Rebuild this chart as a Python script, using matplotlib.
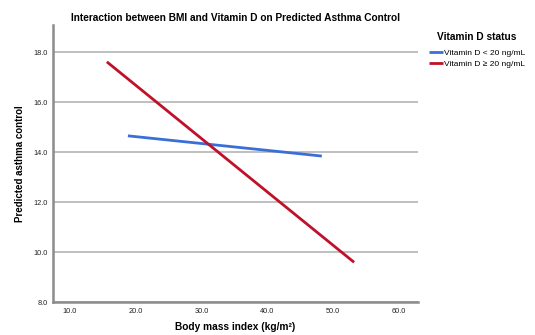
import matplotlib.pyplot as plt

plt.rcParams["font.family"] = ["Liberation Sans", "DejaVu Sans"]

# 예측값 (선의 양 끝점)
bmi_low = [18.8, 48.3]
asthma_low = [14.65, 13.84]
bmi_high = [15.6, 53.2]
asthma_high = [17.61, 9.59]

x_ticks = [10, 20, 30, 40, 50, 60]
y_ticks = [8, 10, 12, 14, 16, 18]

fig = plt.figure(figsize=(5.35, 3.35), dpi=100)
ax = fig.add_axes([0.099, 0.0985, 0.682, 0.8265])

ax.plot(bmi_low, asthma_low, color="#3a6fd8", linewidth=2,
        label="Vitamin D < 20 ng/mL", solid_capstyle="butt")
ax.plot(bmi_high, asthma_high, color="#c0102a", linewidth=2,
        label="Vitamin D \u2265 20 ng/mL", solid_capstyle="butt")

ax.set_xlim(7.4, 62.9)
ax.set_ylim(8, 19.08)
ax.set_xticks(x_ticks)
ax.set_xticklabels([f"{v:.1f}" for v in x_ticks])
ax.set_yticks(y_ticks)
ax.set_yticklabels([f"{v:.1f}" for v in y_ticks])
ax.tick_params(length=0, labelsize=5.3, colors="#222222", pad=4)

ax.yaxis.grid(True, color="#b4b4b4", linewidth=1.2)
ax.set_axisbelow(True)
for side in ["top", "right"]:
    ax.spines[side].set_visible(False)
for side in ["left", "bottom"]:
    ax.spines[side].set_color("#8c8c8c")
    ax.spines[side].set_linewidth(1.8)

ax.set_title("Interaction between BMI and Vitamin D on Predicted Asthma Control",
             fontsize=7.3, fontweight="bold", pad=3)
ax.set_xlabel("Body mass index (kg/m\u00b2)", fontsize=7.3, fontweight="bold", labelpad=5)
ax.set_ylabel("Predicted asthma control", fontsize=7, fontweight="bold", labelpad=6)

leg = ax.legend(title="Vitamin D status", loc="upper left",
                bbox_to_anchor=(1.03, 0.975), frameon=False, fontsize=6.0,
                handlelength=1.7, handletextpad=0.15, labelspacing=0.35,
                borderaxespad=0, borderpad=0)
leg.get_title().set_fontweight("bold")
leg.get_title().set_fontsize(7.3)
leg._legend_box.sep = 5

fig.savefig("out.png", dpi=100)
